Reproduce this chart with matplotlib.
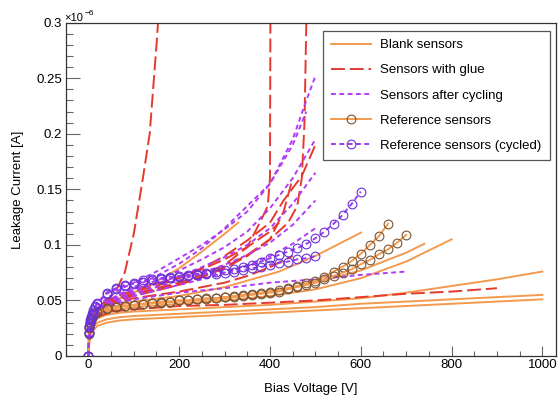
import matplotlib
matplotlib.use("Agg")
import matplotlib.pyplot as plt
from matplotlib.ticker import MultipleLocator, FormatStrFormatter

# ==========================
# STYLE
# ==========================
FONT = "Liberation Sans"
TICK_FS = 9.5
LABEL_FS = 9.5
LEGEND_FS = 9.5

C_BLANK = "#F39A4E"
C_GLUE = "#E5392E"
C_CYCL = "#B23CF5"
C_REF_EDGE = "#7A5434"
C_REFC_LINE = "#9A3CF0"
C_REFC_EDGE = "#6A30D8"

# ==========================
# DATA  (current in units of 1e-6 A)
# ==========================
# Blank sensors
blank_v_long = [0, 2, 5, 10, 20, 40, 70, 100, 200, 300, 400, 500, 600, 700, 800, 900, 1000]
blank_1 = [0, 0.012, 0.019, 0.023, 0.027, 0.030, 0.032, 0.033, 0.035, 0.037, 0.039, 0.041, 0.043, 0.045, 0.047, 0.049, 0.051]
blank_2 = [0, 0.014, 0.021, 0.026, 0.030, 0.033, 0.035, 0.036, 0.038, 0.040, 0.042, 0.044, 0.047, 0.049, 0.051, 0.053, 0.055]
blank_3 = [0, 0.016, 0.024, 0.029, 0.034, 0.037, 0.039, 0.040, 0.042, 0.044, 0.046, 0.049, 0.052, 0.057, 0.063, 0.069, 0.076]
blank_v_800 = [0, 2, 5, 10, 20, 40, 70, 100, 200, 300, 400, 500, 600, 700, 800]
blank_4 = [0, 0.016, 0.025, 0.031, 0.036, 0.040, 0.042, 0.044, 0.047, 0.050, 0.054, 0.060, 0.070, 0.085, 0.105]
blank_v_740 = [0, 2, 5, 10, 20, 40, 70, 100, 200, 300, 400, 500, 600, 700, 740]
blank_5 = [0, 0.017, 0.026, 0.032, 0.037, 0.041, 0.044, 0.046, 0.049, 0.052, 0.058, 0.066, 0.077, 0.093, 0.101]
blank_v_600 = [0, 2, 5, 10, 20, 40, 70, 100, 200, 300, 420, 500, 600]
blank_6 = [0, 0.017, 0.027, 0.033, 0.038, 0.043, 0.046, 0.049, 0.054, 0.062, 0.076, 0.090, 0.111]
blank_v_330 = [0, 2, 5, 10, 20, 40, 70, 100, 150, 200, 250, 300, 330]
blank_7 = [0, 0.018, 0.028, 0.034, 0.040, 0.046, 0.052, 0.057, 0.067, 0.079, 0.094, 0.110, 0.120]

# Sensors with glue
glue_v_1 = [0, 2, 5, 10, 20, 40, 60, 80, 100, 120, 135, 150, 155]
glue_1 = [0, 0.020, 0.030, 0.036, 0.043, 0.050, 0.058, 0.075, 0.110, 0.160, 0.200, 0.280, 0.310]
glue_v_2 = [0, 2, 5, 10, 20, 40, 70, 100, 150, 200, 250, 300, 350, 380, 395, 400, 401]
glue_2 = [0, 0.020, 0.030, 0.036, 0.042, 0.048, 0.053, 0.056, 0.061, 0.066, 0.073, 0.082, 0.098, 0.122, 0.135, 0.160, 0.320]
glue_v_3 = [0, 2, 5, 10, 20, 40, 70, 100, 150, 200, 250, 300, 350, 400, 440, 460, 470, 476, 480, 481]
glue_3 = [0, 0.019, 0.029, 0.035, 0.041, 0.047, 0.052, 0.055, 0.060, 0.065, 0.071, 0.079, 0.090, 0.105, 0.120, 0.135, 0.160, 0.210, 0.300, 0.320]
glue_v_4 = [0, 2, 5, 10, 20, 40, 70, 100, 150, 200, 250, 300, 350, 400, 430, 470, 500]
glue_4 = [0, 0.019, 0.029, 0.035, 0.042, 0.049, 0.055, 0.059, 0.065, 0.071, 0.079, 0.090, 0.104, 0.120, 0.140, 0.162, 0.190]
glue_v_5 = [0, 2, 5, 10, 20, 40, 70, 100, 150, 200, 250, 300, 350, 400, 430, 450]
glue_5 = [0, 0.018, 0.028, 0.034, 0.040, 0.046, 0.051, 0.054, 0.059, 0.064, 0.071, 0.080, 0.091, 0.105, 0.130, 0.160]
glue_v_6 = [0, 2, 5, 10, 20, 40, 70, 100, 150, 200, 250, 300, 350, 400, 420]
glue_6 = [0, 0.020, 0.030, 0.036, 0.043, 0.050, 0.055, 0.058, 0.063, 0.070, 0.078, 0.087, 0.098, 0.112, 0.120]
glue_v_7 = [0, 2, 5, 10, 20, 40, 70, 100, 150, 200, 250, 300, 350, 400, 450]
glue_7 = [0, 0.018, 0.027, 0.033, 0.039, 0.045, 0.049, 0.052, 0.055, 0.058, 0.062, 0.066, 0.072, 0.080, 0.090]
glue_v_8 = [0, 2, 5, 10, 20, 50, 100, 200, 300, 400, 500, 600, 700, 800, 900]
glue_8 = [0, 0.018, 0.025, 0.030, 0.035, 0.040, 0.042, 0.045, 0.046, 0.048, 0.050, 0.053, 0.056, 0.058, 0.061]

# Sensors after cycling
cyc_v_500 = [0, 2, 5, 10, 20, 40, 70, 100, 150, 200, 250, 300, 350, 400, 450, 480, 500]
cyc_1 = [0, 0.020, 0.030, 0.036, 0.043, 0.052, 0.060, 0.066, 0.076, 0.088, 0.100, 0.114, 0.130, 0.155, 0.195, 0.230, 0.252]
cyc_v_480 = [0, 2, 5, 10, 20, 40, 70, 100, 150, 200, 250, 300, 350, 400, 450, 480]
cyc_2 = [0, 0.019, 0.028, 0.034, 0.041, 0.049, 0.056, 0.062, 0.072, 0.083, 0.097, 0.115, 0.135, 0.155, 0.190, 0.220]
cyc_v = [0, 2, 5, 10, 20, 40, 70, 100, 150, 200, 250, 300, 350, 400, 450, 500]
cyc_3 = [0, 0.018, 0.027, 0.033, 0.040, 0.048, 0.055, 0.060, 0.068, 0.077, 0.087, 0.098, 0.112, 0.133, 0.160, 0.195]
cyc_4 = [0, 0.018, 0.027, 0.033, 0.040, 0.047, 0.053, 0.058, 0.065, 0.072, 0.080, 0.089, 0.100, 0.115, 0.137, 0.165]
cyc_5 = [0, 0.017, 0.026, 0.032, 0.039, 0.046, 0.052, 0.056, 0.062, 0.068, 0.075, 0.082, 0.091, 0.102, 0.118, 0.140]
cyc_6 = [0, 0.017, 0.025, 0.031, 0.038, 0.045, 0.050, 0.054, 0.059, 0.064, 0.069, 0.075, 0.082, 0.090, 0.101, 0.115]
cyc_v_700 = [0, 2, 5, 10, 20, 40, 70, 100, 200, 300, 400, 500, 600, 700]
cyc_7 = [0, 0.016, 0.024, 0.030, 0.037, 0.043, 0.048, 0.051, 0.057, 0.061, 0.066, 0.069, 0.073, 0.076]

# Reference sensors (points every 20 V)
ref_v_1 = [0, 1, 2, 4, 6, 8, 10, 15] + list(range(20, 661, 20))
ref_1 = [0, 0.021, 0.026, 0.030, 0.033, 0.035, 0.037, 0.039,
         0.040, 0.043, 0.044, 0.045, 0.046, 0.047, 0.048, 0.049, 0.049, 0.050,
         0.050, 0.051, 0.052, 0.052, 0.053, 0.054, 0.055, 0.056, 0.057, 0.058,
         0.0595, 0.061, 0.063, 0.0655, 0.0676, 0.0715, 0.076, 0.0805, 0.0856,
         0.092, 0.100, 0.108, 0.119]
ref_v_2 = [0, 1, 2, 4, 6, 8, 10, 15] + list(range(20, 701, 20))
ref_2 = [0, 0.020, 0.025, 0.029, 0.032, 0.034, 0.036, 0.038,
         0.040, 0.042, 0.044, 0.045, 0.046, 0.047, 0.048, 0.048, 0.049, 0.050,
         0.050, 0.051, 0.051, 0.052, 0.053, 0.053, 0.054, 0.055, 0.056, 0.057,
         0.058, 0.060, 0.062, 0.064, 0.066, 0.069, 0.072, 0.075, 0.078,
         0.0826, 0.0865, 0.0916, 0.096, 0.102, 0.109]

# Reference sensors (cycled)
refc_v_1 = [0, 1, 2, 4, 6, 8, 10, 15] + list(range(20, 601, 20))
refc_1 = [0, 0.022, 0.027, 0.032, 0.035, 0.038, 0.041, 0.045,
          0.048, 0.057, 0.061, 0.064, 0.066, 0.068, 0.069, 0.070, 0.071, 0.072,
          0.073, 0.074, 0.075, 0.076, 0.077, 0.078, 0.080, 0.082, 0.085, 0.088,
          0.091, 0.094, 0.097, 0.101, 0.106, 0.112, 0.119, 0.127, 0.137, 0.148]
refc_v_2 = [0, 1, 2, 4, 6, 8, 10, 15] + list(range(20, 501, 20))
refc_2 = [0, 0.021, 0.026, 0.031, 0.034, 0.037, 0.040, 0.044,
          0.047, 0.056, 0.060, 0.063, 0.065, 0.067, 0.068, 0.069, 0.070, 0.071,
          0.072, 0.073, 0.074, 0.074, 0.075, 0.076, 0.077, 0.079, 0.080, 0.082,
          0.084, 0.085, 0.087, 0.088, 0.090]

blank_sets = [(blank_v_long, blank_1), (blank_v_long, blank_2), (blank_v_long, blank_3),
              (blank_v_800, blank_4), (blank_v_740, blank_5), (blank_v_600, blank_6),
              (blank_v_330, blank_7)]
glue_sets = [(glue_v_1, glue_1), (glue_v_2, glue_2), (glue_v_3, glue_3), (glue_v_4, glue_4),
             (glue_v_5, glue_5), (glue_v_6, glue_6), (glue_v_7, glue_7), (glue_v_8, glue_8)]
cyc_sets = [(cyc_v_500, cyc_1), (cyc_v_480, cyc_2), (cyc_v, cyc_3), (cyc_v, cyc_4),
            (cyc_v, cyc_5), (cyc_v, cyc_6), (cyc_v_700, cyc_7)]
ref_sets = [(ref_v_1, ref_1), (ref_v_2, ref_2)]
refc_sets = [(refc_v_1, refc_1), (refc_v_2, refc_2)]

plt.rcParams["font.family"] = [FONT, "DejaVu Sans"]
plt.rcParams["lines.scale_dashes"] = False

fig = plt.figure(figsize=(5.58, 3.96), dpi=100)
ax = fig.add_axes([65.7 / 558, 1 - 356 / 396, (556 - 65.7) / 558, (356 - 22.7) / 396])

LW = 1.4
GLUE_DASH = (10, 3.5)
CYC_DASH = (3.5, 2.5)

for i, (v, c) in enumerate(blank_sets):
    ax.plot(v, c, color=C_BLANK, lw=LW, label="Blank sensors" if i == 0 else None)
for i, (v, c) in enumerate(glue_sets):
    ax.plot(v, c, color=C_GLUE, lw=LW, dashes=GLUE_DASH,
            label="Sensors with glue" if i == 0 else None)
for i, (v, c) in enumerate(cyc_sets):
    ax.plot(v, c, color=C_CYCL, lw=LW, dashes=CYC_DASH,
            label="Sensors after cycling" if i == 0 else None)
for i, (v, c) in enumerate(ref_sets):
    ax.plot(v, c, color=C_BLANK, lw=LW, marker="o", ms=6.3, mfc="none",
            mec=C_REF_EDGE, mew=0.8, label="Reference sensors" if i == 0 else None)
for i, (v, c) in enumerate(refc_sets):
    ax.plot(v, c, color=C_REFC_LINE, lw=LW, dashes=CYC_DASH, marker="o", ms=6.3,
            mfc="none", mec=C_REFC_EDGE, mew=0.8,
            label="Reference sensors (cycled)" if i == 0 else None)

ax.set_xlim(-50, 1030)
ax.set_ylim(0, 0.3)

ax.xaxis.set_major_locator(MultipleLocator(200))
ax.xaxis.set_minor_locator(MultipleLocator(50))
ax.yaxis.set_major_locator(MultipleLocator(0.05))
ax.yaxis.set_minor_locator(MultipleLocator(0.01))
ax.xaxis.set_major_formatter(FormatStrFormatter("%g"))
ax.yaxis.set_major_formatter(FormatStrFormatter("%g"))

ax.tick_params(axis="both", which="both", direction="in", top=False, right=False,
               color="#666666", width=0.8, labelsize=TICK_FS)
ax.tick_params(axis="x", which="major", length=7.2, pad=2.0)
ax.tick_params(axis="x", which="minor", length=3.6)
ax.tick_params(axis="y", which="major", length=10, pad=2.5)
ax.tick_params(axis="y", which="minor", length=5)
for s in ax.spines.values():
    s.set_color("#333333")
    s.set_linewidth(0.9)

ax.set_xlabel("Bias Voltage [V]", fontsize=LABEL_FS)
ax.set_ylabel("Leakage Current [A]", fontsize=LABEL_FS)
ax.xaxis.set_label_coords(0.5, -0.082)
ax.yaxis.set_label_coords(-0.085, 0.5)

# exponent marker (ROOT style)
fig.text(64 / 558, 1 - 21 / 396, "\u00d710", fontsize=8, va="baseline", ha="left")
fig.text(85 / 558, 1 - 15 / 396, "\u22126", fontsize=6, va="baseline", ha="left")

leg = ax.legend(loc="upper left", bbox_to_anchor=(0.5248, 0.60, 0.463, 0.375),
                mode="expand", fontsize=LEGEND_FS, frameon=True, fancybox=False,
                edgecolor="#555555", framealpha=1, borderpad=0.6, labelspacing=0.98,
                handlelength=3.0, handletextpad=0.7, numpoints=1, borderaxespad=0)
leg.get_frame().set_linewidth(0.9)

fig.savefig("out.png", dpi=100)
